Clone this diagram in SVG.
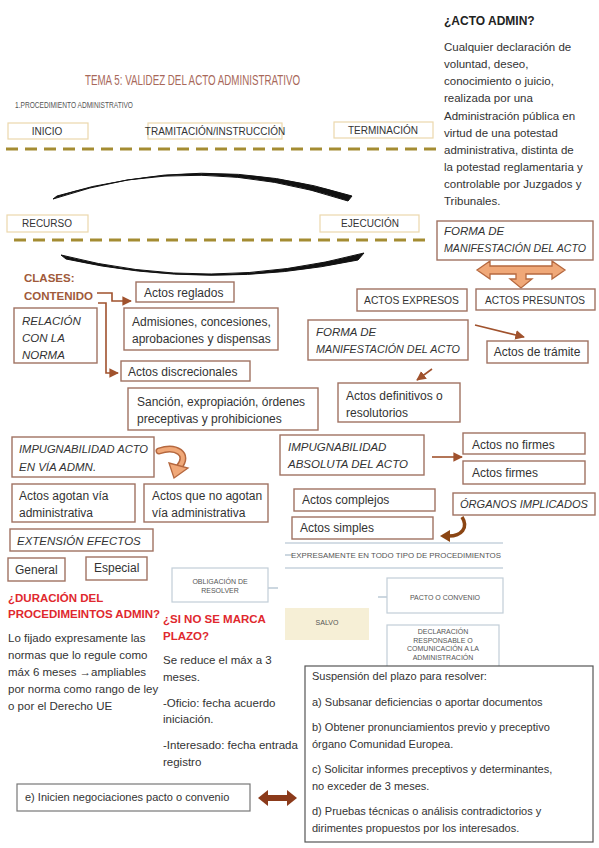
<svg xmlns="http://www.w3.org/2000/svg" width="599" height="848" viewBox="0 0 599 848">
<defs>
<style>
text{font-family:"Liberation Sans",Arial,sans-serif;fill:#333;}
.b{fill:#fff;stroke:#a07262;stroke-width:1.4;}
.t{fill:#fff;stroke:#ecd8ac;stroke-width:1.2;}
.g{fill:#fff;stroke:#c2ced8;stroke-width:1.2;}
.bx{font-size:12px;}
.it{font-size:11.5px;font-style:italic;}
.cap{font-size:10px;fill:#333;text-anchor:middle;}
.red{font-size:11.5px;font-weight:bold;fill:#e0282e;}
.p{font-size:11.5px;}
.s{font-size:11px;}
.sm{font-size:7px;fill:#555;text-anchor:middle;}
.cl{font-size:11.5px;font-weight:bold;fill:#a05a3a;}
.ln{fill:none;stroke:#a0522d;stroke-width:1.6;}
.dash{stroke:#a48c32;stroke-width:3;stroke-dasharray:12 7;}
.arc{fill:#111;stroke:#111;stroke-width:1;stroke-linejoin:round;}
.bl{stroke:#a9bccb;stroke-width:1.2;}
</style>
<marker id="ah" viewBox="0 0 10 10" refX="9" refY="5" markerWidth="6" markerHeight="6" orient="auto">
<path d="M0,0 L10,5 L0,10 z" fill="#a0522d"/>
</marker>
</defs>

<!-- Title -->
<text x="85" y="85" textLength="215" lengthAdjust="spacingAndGlyphs" style="font-size:14px;fill:#a8685a;">TEMA  5: VALIDEZ DEL ACTO ADMINISTRATIVO</text>
<text x="15" y="108" textLength="118" lengthAdjust="spacingAndGlyphs" style="font-size:9px;fill:#555;">1.PROCEDIMIENTO ADMINISTRATIVO</text>

<!-- Right text -->
<g id="acto-admin">
<text x="444" y="25" style="font-size:12px;font-weight:bold;fill:#222;">¿ACTO ADMIN?</text>
<text class="p" x="444" y="51">Cualquier declaración de</text>
<text class="p" x="444" y="68">voluntad, deseo,</text>
<text class="p" x="444" y="85">conocimiento o juicio,</text>
<text class="p" x="444" y="102">realizada por una</text>
<text class="p" x="444" y="120">Administración pública en</text>
<text class="p" x="444" y="137">virtud de una potestad</text>
<text class="p" x="444" y="154">administrativa, distinta de</text>
<text class="p" x="444" y="171">la potestad reglamentaria y</text>
<text class="p" x="444" y="188">controlable por Juzgados y</text>
<text class="p" x="444" y="205">Tribunales.</text>
</g>

<!-- Procedure timeline -->
<g id="inicio"><rect class="t" x="8" y="123" width="80" height="16"/><text class="cap" x="47" y="135">INICIO</text></g>
<g id="tramitacion"><rect class="t" x="148" y="123" width="134" height="16"/><text class="cap" x="215" y="135">TRAMITACIÓN/INSTRUCCIÓN</text></g>
<g id="terminacion"><rect class="t" x="334" y="122" width="99" height="16"/><text class="cap" x="383" y="134">TERMINACIÓN</text></g>
<g id="recurso"><rect class="t" x="7" y="215" width="81" height="17"/><text class="cap" x="47" y="227">RECURSO</text></g>
<g id="ejecucion"><rect class="t" x="320" y="215" width="99" height="17"/><text class="cap" x="370" y="227">EJECUCIÓN</text></g>

<g id="connectors">
<line class="dash" x1="6" y1="149" x2="436" y2="149"/>
<line class="dash" x1="14" y1="240" x2="430" y2="240"/>
<path class="arc" d="M53,199 Q200,149 352,196 L348,201 Q200,152 57,196 Z"/>
<path class="arc" d="M61,255 Q210,294 364,253 L358,260 Q210,291 66,259 Z"/>
<path class="ln" d="M97,293 L112,293 L112,301 L131,301" marker-end="url(#ah)"/>
<path class="ln" d="M98,303 L106,303 L106,373 L118,373" marker-end="url(#ah)"/>
<line class="ln" x1="475" y1="325" x2="524" y2="337" marker-end="url(#ah)"/>
<line class="ln" x1="432" y1="369" x2="417" y2="380" marker-end="url(#ah)"/>
<line class="ln" x1="432" y1="457" x2="462" y2="457" marker-end="url(#ah)"/>
<polygon points="477,270 490,261 490,266 552,266 552,261 565,270 552,279 552,274 526,274 526,279 532,279 521,288 510,279 516,279 516,274 490,274 490,279" fill="#f0a878" stroke="#b5683f" stroke-width="1.3"/>
<path d="M159,451 C176,445 190,454 179,467" fill="none" stroke="#b5683f" stroke-width="7" stroke-linecap="round"/>
<path d="M159,451 C176,445 190,454 179,467" fill="none" stroke="#f0a878" stroke-width="4" stroke-linecap="round"/>
<polygon points="169,463 188,468 174,478" fill="#f0a878" stroke="#b5683f" stroke-width="1.3"/>
<path d="M462,517 C469,528 461,536 449,536" fill="none" stroke="#8b4513" stroke-width="3.5"/>
<polygon points="450,530 450,542 440,536" fill="#8b4513"/>
<line class="bl" x1="285" y1="543" x2="503" y2="543"/>
<line class="bl" x1="285" y1="568" x2="503" y2="568"/>
<line class="bl" x1="285" y1="555" x2="292" y2="555"/>
<line class="bl" x1="268" y1="588" x2="278" y2="588"/>
<line class="bl" x1="378" y1="597" x2="387" y2="597"/>
<polygon points="258,798 268,790 268,795 287,795 287,790 297,798 287,806 287,801 268,801 268,806" fill="#8b3a1a"/>
</g>

<!-- Clases -->
<text class="cl" x="24" y="282">CLASES:</text>
<text class="cl" x="24" y="300">CONTENIDO</text>
<g id="reglados"><rect class="b" x="136" y="282" width="98" height="20"/><text class="bx" x="144" y="297">Actos reglados</text></g>
<g id="admisiones"><rect class="b" x="124" y="308" width="154" height="42"/><text class="bx" x="132" y="326">Admisiones, concesiones,</text><text class="bx" x="132" y="343">aprobaciones y dispensas</text></g>
<g id="relacion"><rect class="b" x="14" y="308" width="83" height="55"/><text class="it" x="22" y="325">RELACIÓN</text><text class="it" x="22" y="342">CON LA</text><text class="it" x="22" y="359">NORMA</text></g>
<g id="discrecionales"><rect class="b" x="121" y="361" width="129" height="20"/><text class="bx" x="128" y="376">Actos discrecionales</text></g>
<g id="sancion"><rect class="b" x="128" y="388" width="190" height="42"/><text class="bx" x="137" y="406">Sanción, expropiación, órdenes</text><text class="bx" x="137" y="423">preceptivas y prohibiciones</text></g>

<!-- Forma manifestación -->
<g id="forma1"><rect class="b" x="437" y="221" width="156" height="39"/><text class="it" x="444" y="235">FORMA DE</text><text class="it" x="444" y="252" textLength="142" lengthAdjust="spacingAndGlyphs">MANIFESTACIÓN DEL ACTO</text></g>
<g id="expresos"><rect class="b" x="357" y="289" width="110" height="22"/><text x="364" y="304" style="font-size:11px;" textLength="95" lengthAdjust="spacingAndGlyphs">ACTOS EXPRESOS</text></g>
<g id="presuntos"><rect class="b" x="476" y="289" width="119" height="21"/><text x="485" y="304" style="font-size:10.5px;" textLength="100" lengthAdjust="spacingAndGlyphs">ACTOS PRESUNTOS</text></g>
<g id="forma2"><rect class="b" x="308" y="320" width="160" height="40"/><text class="it" x="316" y="336">FORMA DE</text><text class="it" x="316" y="353" textLength="144" lengthAdjust="spacingAndGlyphs">MANIFESTACIÓN DEL ACTO</text></g>
<g id="tramite"><rect class="b" x="487" y="341" width="101" height="22"/><text class="bx" x="537" y="356" text-anchor="middle">Actos de trámite</text></g>
<g id="definitivos"><rect class="b" x="338" y="383" width="122" height="39"/><text class="bx" x="346" y="400">Actos definitivos o</text><text class="bx" x="346" y="417">resolutorios</text></g>

<!-- Impugnabilidad -->
<g id="impug-via"><rect class="b" x="12" y="437" width="142" height="40"/><text class="it" x="19" y="453" textLength="129" lengthAdjust="spacingAndGlyphs">IMPUGNABILIDAD ACTO</text><text class="it" x="19" y="471">EN VÍA ADMN.</text></g>
<g id="agotan"><rect class="b" x="12" y="484" width="123" height="38"/><text class="bx" x="19" y="500">Actos agotan vía</text><text class="bx" x="19" y="517">administrativa</text></g>
<g id="no-agotan"><rect class="b" x="144" y="484" width="124" height="38"/><text class="bx" x="152" y="500">Actos que no agotan</text><text class="bx" x="152" y="517">vía administrativa</text></g>
<g id="extension"><rect class="b" x="10" y="529" width="143" height="22"/><text class="it" x="17" y="545">EXTENSIÓN EFECTOS</text></g>
<g id="general"><rect class="b" x="8" y="558" width="57" height="23"/><text class="bx" x="15" y="574">General</text></g>
<g id="especial"><rect class="b" x="86" y="557" width="61" height="23"/><text class="bx" x="94" y="572">Especial</text></g>

<g id="impug-abs"><rect class="b" x="280" y="435" width="144" height="40"/><text class="it" x="288" y="451">IMPUGNABILIDAD</text><text class="it" x="288" y="468">ABSOLUTA DEL ACTO</text></g>
<g id="no-firmes"><rect class="b" x="463" y="433" width="122" height="21"/><text class="bx" x="472" y="449">Actos no firmes</text></g>
<g id="firmes"><rect class="b" x="463" y="461" width="122" height="23"/><text class="bx" x="472" y="477">Actos firmes</text></g>
<g id="complejos"><rect class="b" x="294" y="489" width="141" height="22"/><text class="bx" x="302" y="504">Actos complejos</text></g>
<g id="organos"><rect class="b" x="453" y="493" width="142" height="22"/><text class="it" x="460" y="508" textLength="128" lengthAdjust="spacingAndGlyphs">ÓRGANOS IMPLICADOS</text></g>
<g id="simples"><rect class="b" x="292" y="517" width="141" height="22"/><text class="bx" x="300" y="532">Actos simples</text></g>

<!-- Obligación de resolver -->
<g id="expresamente"><text class="sm" x="396" y="558" textLength="210" lengthAdjust="spacingAndGlyphs">EXPRESAMENTE EN TODO TIPO DE PROCEDIMIENTOS</text></g>
<g id="obligacion"><rect class="g" x="172" y="568" width="96" height="34"/><text class="sm" x="220" y="584">OBLIGACIÓN DE</text><text class="sm" x="220" y="593">RESOLVER</text></g>
<g id="pacto"><rect class="g" x="387" y="578" width="116" height="35"/><text class="sm" x="445" y="600">PACTO O CONVENIO</text></g>
<g id="salvo"><rect x="285" y="608" width="84" height="32" fill="#f6efd6"/><text class="sm" x="327" y="625">SALVO</text></g>
<g id="declaracion"><rect class="g" x="387" y="625" width="112" height="50"/><text class="sm" x="443" y="634">DECLARACIÓN</text><text class="sm" x="443" y="643">RESPONSABLE O</text><text class="sm" x="443" y="651">COMUNICACIÓN A LA</text><text class="sm" x="443" y="660">ADMINISTRACIÓN</text></g>

<!-- Duración -->
<g id="duracion">
<text class="red" x="8" y="602">¿DURACIÓN DEL</text>
<text class="red" x="8" y="618">PROCEDIMEINTOS ADMIN?</text>
<text class="p" x="8" y="642">Lo fijado expresamente las</text>
<text class="p" x="8" y="659">normas que lo regule como</text>
<text class="p" x="8" y="676">máx 6 meses →ampliables</text>
<text class="p" x="8" y="693">por norma como rango de ley</text>
<text class="p" x="8" y="710">o por el Derecho UE</text>
</g>
<g id="sin-plazo">
<text class="red" x="163" y="623">¿SI NO SE MARCA</text>
<text class="red" x="163" y="640">PLAZO?</text>
<text class="p" x="163" y="664">Se reduce el máx a 3</text>
<text class="p" x="163" y="681">meses.</text>
<text class="p" x="163" y="707">-Oficio: fecha acuerdo</text>
<text class="p" x="163" y="723">iniciación.</text>
<text class="p" x="163" y="749">-Interesado: fecha entrada</text>
<text class="p" x="163" y="766">registro</text>
</g>

<!-- Suspensión -->
<g id="suspension">
<rect x="305" y="666" width="288" height="176" fill="#fff" stroke="#555" stroke-width="1.2"/>
<text class="s" x="312" y="680">Suspensión del plazo para resolver:</text>
<text class="s" x="312" y="706">a) Subsanar deficiencias o aportar documentos</text>
<text class="s" x="312" y="731">b) Obtener pronunciamientos previo y preceptivo</text>
<text class="s" x="312" y="748">órgano Comunidad Europea.</text>
<text class="s" x="312" y="773">c) Solicitar informes preceptivos y determinantes,</text>
<text class="s" x="312" y="790">no exceder de 3 meses.</text>
<text class="s" x="312" y="815">d) Pruebas técnicas o análisis contradictorios y</text>
<text class="s" x="312" y="832">dirimentes propuestos por los interesados.</text>
</g>
<g id="negociaciones"><rect x="17" y="784" width="233" height="27" fill="#fff" stroke="#777" stroke-width="1.2"/><text class="s" x="25" y="801">e) Inicien negociaciones pacto o convenio</text></g>
</svg>
